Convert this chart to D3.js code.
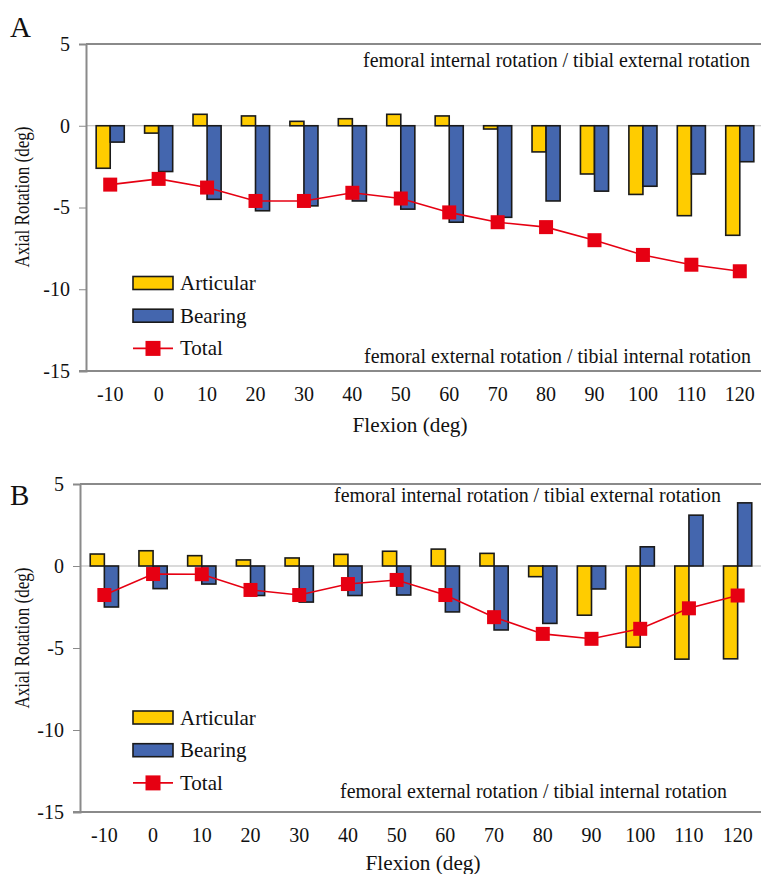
<!DOCTYPE html>
<html>
<head>
<meta charset="utf-8">
<script src="https://cdn.jsdelivr.net/npm/d3@7"></script>
<style>
  html, body { margin: 0; padding: 0; background: #fff; }
  svg { display: block; font-family: "Liberation Serif", "Times New Roman", serif; }
</style>
</head>
<body>
<div id="chart"></div>
<script>
// flexion angles (deg)
const flexion = [-10, 0, 10, 20, 30, 40, 50, 60, 70, 80, 90, 100, 110, 120];
const yTicks = [5, 0, -5, -10, -15];

// panel A
const articularA = [-2.6, -0.45, 0.7, 0.6, 0.27, 0.43, 0.7, 0.6, -0.2, -1.6, -2.95, -4.2, -5.5, -6.7];
const bearingA   = [-1.0, -2.8, -4.5, -5.2, -4.9, -4.6, -5.1, -5.9, -5.6, -4.6, -4.0, -3.7, -2.95, -2.2];
const totalA     = [-3.6, -3.25, -3.78, -4.6, -4.6, -4.1, -4.45, -5.3, -5.9, -6.2, -7.0, -7.9, -8.5, -8.9];

// panel B
const articularB = [0.73, 0.93, 0.63, 0.37, 0.49, 0.71, 0.9, 1.03, 0.77, -0.65, -3.0, -4.95, -5.68, -5.66];
const bearingB   = [-2.5, -1.38, -1.1, -1.8, -2.2, -1.8, -1.77, -2.8, -3.9, -3.5, -1.4, 1.17, 3.1, 3.85];
const totalB     = [-1.77, -0.49, -0.5, -1.46, -1.77, -1.1, -0.85, -1.77, -3.12, -4.14, -4.44, -3.83, -2.58, -1.8];

const seriesNames = ['Articular', 'Bearing', 'Total'];
const topNote = 'femoral internal rotation / tibial external rotation';
const bottomNote = 'femoral external rotation / tibial internal rotation';

const colors = { Articular: '#FFCC00', Bearing: '#4466AE', Total: '#E60012' };
const axisGray = '#8a8a8a';
const serif = '"Liberation Serif", "Times New Roman", serif';

const svg = d3.select('#chart').append('svg')
  .attr('width', 761).attr('height', 874);

function drawPanel(p) {
  const g = svg.append('g');
  const x = d3.scaleBand().domain(flexion).range([p.left, p.right]);
  const y = d3.scaleLinear().domain([-15, 5]).range([p.bottom, p.top]);
  const bw = x.bandwidth();
  const xs = d3.scaleBand().domain(['Articular', 'Bearing'])
    .range([bw / 2 - bw * 0.29, bw / 2 + bw * 0.29]);

  // top border + zero line
  g.append('line').attr('x1', p.left).attr('x2', 761).attr('y1', y(5)).attr('y2', y(5))
    .attr('stroke', axisGray).attr('stroke-width', 2);
  g.append('line').attr('x1', p.left).attr('x2', 761).attr('y1', y(0)).attr('y2', y(0))
    .attr('stroke', '#b5b5b5').attr('stroke-width', 1);

  // y axis
  const gy = g.append('g').attr('transform', `translate(${p.left},0)`)
    .call(d3.axisLeft(y).tickValues(yTicks).tickSize(7).tickPadding(9));
  gy.attr('font-family', serif);
  gy.select('.domain').attr('stroke', axisGray).attr('stroke-width', 2);
  gy.selectAll('.tick line').attr('stroke', axisGray).attr('stroke-width', 1);
  gy.selectAll('.tick text').attr('font-size', 20).attr('fill', '#111')
    .text(d => d < 0 ? '-' + Math.abs(d) : d);

  // x axis
  const gx = g.append('g').attr('transform', `translate(0,${p.bottom})`)
    .call(d3.axisBottom(x).tickSize(0).tickPadding(16));
  gx.attr('font-family', serif);
  gx.select('.domain').remove();
  g.append('line').attr('x1', p.left - 7).attr('x2', 761).attr('y1', p.bottom).attr('y2', p.bottom)
    .attr('stroke', axisGray).attr('stroke-width', 2);
  gx.selectAll('.tick text').attr('font-size', 20).attr('fill', '#111')
    .text(d => d < 0 ? '-' + Math.abs(d) : d);

  // bars
  const rows = flexion.map((f, i) => ({ f, Articular: p.articular[i], Bearing: p.bearing[i] }));
  g.append('g').selectAll('g').data(rows).join('g')
    .attr('transform', d => `translate(${x(d.f)},0)`)
    .selectAll('rect').data(d => ['Articular', 'Bearing'].map(k => ({ k, v: d[k] }))).join('rect')
    .attr('x', d => xs(d.k)).attr('width', xs.bandwidth())
    .attr('y', d => y(Math.max(0, d.v))).attr('height', d => Math.abs(y(d.v) - y(0)))
    .attr('fill', d => colors[d.k]).attr('stroke', '#1a1a1a').attr('stroke-width', 1.6);

  // total line + markers
  const pts = flexion.map((f, i) => ({ f, v: p.total[i] }));
  g.append('path').datum(pts)
    .attr('fill', 'none').attr('stroke', colors.Total).attr('stroke-width', 1.6)
    .attr('d', d3.line().x(d => x(d.f) + bw / 2).y(d => y(d.v)));
  const ms = 14;
  g.append('g').selectAll('rect').data(pts).join('rect')
    .attr('x', d => x(d.f) + bw / 2 - ms / 2).attr('y', d => y(d.v) - ms / 2)
    .attr('width', ms).attr('height', ms).attr('fill', colors.Total);

  // direction notes
  g.append('text').attr('x', p.topNoteX).attr('y', p.topNoteY).attr('text-anchor', 'end')
    .attr('font-size', 20).attr('fill', '#111')
    .attr('textLength', 387).attr('lengthAdjust', 'spacingAndGlyphs').text(topNote);
  g.append('text').attr('x', p.botNoteX).attr('y', p.botNoteY).attr('text-anchor', 'end')
    .attr('font-size', 20).attr('fill', '#111')
    .attr('textLength', 387).attr('lengthAdjust', 'spacingAndGlyphs').text(bottomNote);

  // legend
  const lg = g.append('g');
  seriesNames.forEach((name, i) => {
    const cy = p.legendY + i * 32.7;
    if (name === 'Total') {
      lg.append('line').attr('x1', 133).attr('x2', 173).attr('y1', cy).attr('y2', cy)
        .attr('stroke', colors.Total).attr('stroke-width', 1.6);
      lg.append('rect').attr('x', 153 - 7.5).attr('y', cy - 7.5).attr('width', 15).attr('height', 15)
        .attr('fill', colors.Total);
    } else {
      lg.append('rect').attr('x', 133).attr('y', cy - 6.5).attr('width', 40).attr('height', 13)
        .attr('fill', colors[name]).attr('stroke', '#1a1a1a').attr('stroke-width', 1.6);
    }
    lg.append('text').attr('x', 180).attr('y', cy + 7).attr('font-size', 21).attr('fill', '#111').text(name);
  });

  // titles
  g.append('text').attr('x', p.xTitleX).attr('y', p.xTitleY).attr('text-anchor', 'middle')
    .attr('font-size', 21).attr('fill', '#111')
    .attr('textLength', 115).attr('lengthAdjust', 'spacingAndGlyphs').text('Flexion (deg)');
  g.append('text').attr('transform', `translate(29,${p.yTitleY}) rotate(-90)`)
    .attr('text-anchor', 'middle').attr('font-size', 20).attr('fill', '#111')
    .attr('textLength', 141).attr('lengthAdjust', 'spacingAndGlyphs').text('Axial Rotation (deg)');
  g.append('text').attr('x', 10).attr('y', p.labelY).attr('font-size', 29).attr('fill', '#111').text(p.label);
}

drawPanel({
  label: 'A', labelY: 37,
  left: 86, right: 764, top: 44, bottom: 371,
  articular: articularA, bearing: bearingA, total: totalA,
  topNoteX: 750, topNoteY: 67, botNoteX: 751, botNoteY: 363,
  legendY: 283, xTitleX: 410, xTitleY: 432, yTitleY: 197
});

drawPanel({
  label: 'B', labelY: 505,
  left: 80, right: 762, top: 484, bottom: 812,
  articular: articularB, bearing: bearingB, total: totalB,
  topNoteX: 721, topNoteY: 502, botNoteX: 727, botNoteY: 798,
  legendY: 717.5, xTitleX: 423, xTitleY: 870, yTitleY: 638
});
</script>
</body>
</html>
